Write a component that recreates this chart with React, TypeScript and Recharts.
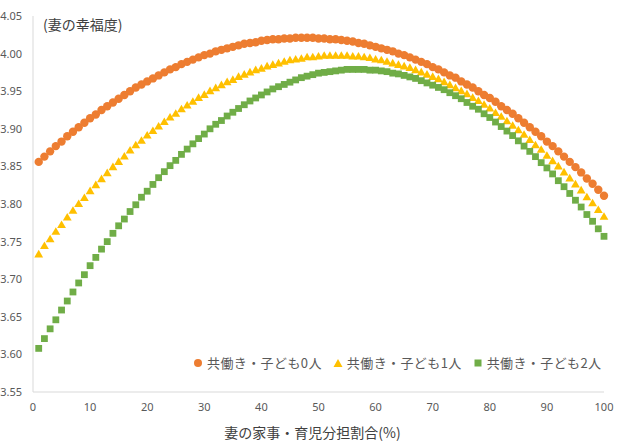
import React from "react";
import {
  ScatterChart,
  Scatter,
  XAxis,
  YAxis,
  Legend,
} from "recharts";

// wife's share of housework / childcare (%)
const share = [
  1, 2, 3, 4, 5, 6, 7, 8, 9, 10, 11, 12, 13, 14, 15, 16, 17, 18, 19, 20,
  21, 22, 23, 24, 25, 26, 27, 28, 29, 30, 31, 32, 33, 34, 35, 36, 37, 38, 39, 40,
  41, 42, 43, 44, 45, 46, 47, 48, 49, 50, 51, 52, 53, 54, 55, 56, 57, 58, 59, 60,
  61, 62, 63, 64, 65, 66, 67, 68, 69, 70, 71, 72, 73, 74, 75, 76, 77, 78, 79, 80,
  81, 82, 83, 84, 85, 86, 87, 88, 89, 90, 91, 92, 93, 94, 95, 96, 97, 98, 99, 100,
];

// predicted happiness of the wife, dual income households
const noChild = [
  3.856, 3.863, 3.870, 3.877, 3.883, 3.890, 3.896, 3.902, 3.908, 3.914,
  3.919, 3.925, 3.930, 3.935, 3.940, 3.945, 3.950, 3.955, 3.959, 3.963,
  3.967, 3.971, 3.975, 3.979, 3.982, 3.986, 3.989, 3.992, 3.995, 3.998,
  4.000, 4.003, 4.005, 4.007, 4.009, 4.011, 4.013, 4.014, 4.015, 4.017,
  4.018, 4.019, 4.019, 4.020, 4.020, 4.021, 4.021, 4.021, 4.021, 4.020,
  4.020, 4.019, 4.019, 4.018, 4.017, 4.016, 4.014, 4.013, 4.011, 4.009,
  4.007, 4.005, 4.003, 4.000, 3.998, 3.995, 3.992, 3.989, 3.986, 3.982,
  3.979, 3.975, 3.971, 3.968, 3.963, 3.959, 3.955, 3.950, 3.945, 3.941,
  3.936, 3.930, 3.925, 3.920, 3.914, 3.908, 3.902, 3.896, 3.890, 3.883,
  3.877, 3.870, 3.863, 3.856, 3.849, 3.842, 3.834, 3.827, 3.819, 3.811,
];

const oneChild = [
  3.733, 3.744, 3.753, 3.763, 3.772, 3.782, 3.791, 3.800, 3.808, 3.817,
  3.825, 3.833, 3.841, 3.849, 3.856, 3.863, 3.871, 3.878, 3.884, 3.891,
  3.897, 3.903, 3.909, 3.915, 3.920, 3.926, 3.931, 3.936, 3.941, 3.945,
  3.950, 3.954, 3.958, 3.962, 3.965, 3.969, 3.972, 3.975, 3.978, 3.980,
  3.983, 3.985, 3.987, 3.989, 3.991, 3.992, 3.993, 3.995, 3.995, 3.996,
  3.997, 3.997, 3.997, 3.997, 3.997, 3.996, 3.996, 3.995, 3.994, 3.992,
  3.991, 3.989, 3.987, 3.985, 3.983, 3.981, 3.978, 3.975, 3.972, 3.969,
  3.966, 3.962, 3.958, 3.954, 3.950, 3.946, 3.941, 3.937, 3.932, 3.927,
  3.921, 3.916, 3.910, 3.904, 3.898, 3.892, 3.885, 3.878, 3.872, 3.864,
  3.857, 3.850, 3.842, 3.834, 3.826, 3.818, 3.809, 3.801, 3.792, 3.783,
];

const twoChildren = [
  3.608, 3.621, 3.634, 3.646, 3.659, 3.671, 3.683, 3.695, 3.706, 3.718,
  3.729, 3.740, 3.750, 3.761, 3.771, 3.780, 3.790, 3.799, 3.809, 3.817,
  3.826, 3.835, 3.843, 3.851, 3.858, 3.866, 3.873, 3.880, 3.887, 3.893,
  3.900, 3.906, 3.911, 3.917, 3.922, 3.927, 3.932, 3.937, 3.941, 3.945,
  3.949, 3.953, 3.956, 3.959, 3.962, 3.965, 3.968, 3.970, 3.972, 3.974,
  3.975, 3.976, 3.977, 3.978, 3.979, 3.979, 3.979, 3.979, 3.978, 3.978,
  3.977, 3.976, 3.974, 3.973, 3.971, 3.969, 3.967, 3.964, 3.961, 3.958,
  3.955, 3.952, 3.948, 3.944, 3.940, 3.935, 3.930, 3.926, 3.920, 3.915,
  3.909, 3.903, 3.897, 3.891, 3.884, 3.877, 3.870, 3.863, 3.855, 3.848,
  3.840, 3.831, 3.823, 3.814, 3.805, 3.796, 3.786, 3.777, 3.767, 3.757,
];

const xTicks = [0, 10, 20, 30, 40, 50, 60, 70, 80, 90, 100];
const yTicks = [3.55, 3.6, 3.65, 3.7, 3.75, 3.8, 3.85, 3.9, 3.95, 4.0, 4.05];

const seriesNames = ["共働き・子ども0人", "共働き・子ども1人", "共働き・子ども2人"];
const colors = ["#ED7D31", "#FFC000", "#70AD47"];

const toPoints = (values: number[]) =>
  share.map((x, i) => ({ x, y: values[i] }));

const JP_FONT = "'Noto Sans CJK JP', 'Noto Sans', sans-serif";
const NUM_FONT = "'Noto Sans', 'Liberation Sans', sans-serif";

const Dot = (props: any) => (
  <circle cx={props.cx} cy={props.cy} r={4.2} fill={colors[0]} />
);

const Tri = (props: any) => {
  const { cx, cy } = props;
  return (
    <polygon
      points={`${cx},${cy - 4.6} ${cx + 4.4},${cy + 3} ${cx - 4.4},${cy + 3}`}
      fill={colors[1]}
    />
  );
};

const Sq = (props: any) => (
  <rect x={props.cx - 3.4} y={props.cy - 3.4} width={6.8} height={6.8} fill={colors[2]} />
);

const LegendMark = ({ idx }: { idx: number }) => (
  <svg width={10} height={10} style={{ marginRight: 4 }}>
    {idx === 0 && <circle cx={5} cy={5} r={4} fill={colors[0]} />}
    {idx === 1 && <polygon points="5,1 9.5,9 0.5,9" fill={colors[1]} />}
    {idx === 2 && <rect x={1.5} y={1.5} width={7} height={7} fill={colors[2]} />}
  </svg>
);

const KeyBox = () => (
  <div style={{ display: "flex", alignItems: "center", fontFamily: JP_FONT }}>
    {seriesNames.map((name, i) => (
      <div
        key={name}
        style={{ display: "flex", alignItems: "center", marginRight: 11 }}
      >
        <LegendMark idx={i} />
        <span style={{ fontSize: 13, color: "#595959", letterSpacing: 0.4 }}>
          {name}
        </span>
      </div>
    ))}
  </div>
);

export default function App() {
  return (
    <div
      style={{
        position: "absolute",
        left: 0,
        top: 0,
        width: 624,
        height: 443,
        background: "#fff",
      }}
    >
      <ScatterChart
        width={624}
        height={443}
        margin={{ top: 16, right: 20, bottom: 0, left: 0 }}
      >
        <XAxis
          type="number"
          dataKey="x"
          domain={[0, 100]}
          ticks={xTicks}
          tickLine={false}
          tickSize={0}
          tickMargin={11}
          height={51}
          axisLine={{ stroke: "#d9d9d9" }}
          tick={{ fontSize: 11, fill: "#595959", fontFamily: NUM_FONT }}
          label={{
            value: "妻の家事・育児分担割合(%)",
            position: "insideBottom",
            offset: 5,
            dx: -6,
            style: { fontSize: 14, fill: "#404040", fontFamily: JP_FONT },
          }}
        />
        <YAxis
          type="number"
          dataKey="y"
          domain={[3.55, 4.05]}
          ticks={yTicks}
          width={33}
          tickLine={false}
          tickSize={0}
          tickMargin={11}
          axisLine={{ stroke: "#d9d9d9" }}
          tickFormatter={(v: number) => v.toFixed(2)}
          tick={{ fontSize: 11, fill: "#595959", fontFamily: NUM_FONT }}
        />
        <Legend
          layout="horizontal"
          verticalAlign="middle"
          align="center"
          content={<KeyBox />}
          wrapperStyle={{ top: 353, left: 193, width: 430 }}
        />
        <Scatter
          name={seriesNames[0]}
          data={toPoints(noChild)}
          fill={colors[0]}
          shape={Dot}
          isAnimationActive={false}
        />
        <Scatter
          name={seriesNames[1]}
          data={toPoints(oneChild)}
          fill={colors[1]}
          shape={Tri}
          isAnimationActive={false}
        />
        <Scatter
          name={seriesNames[2]}
          data={toPoints(twoChildren)}
          fill={colors[2]}
          shape={Sq}
          isAnimationActive={false}
        />
      </ScatterChart>
      <div
        style={{
          position: "absolute",
          left: 43,
          top: 14,
          fontSize: 14,
          color: "#404040",
          fontFamily: JP_FONT,
        }}
      >
        (妻の幸福度)
      </div>
    </div>
  );
}
